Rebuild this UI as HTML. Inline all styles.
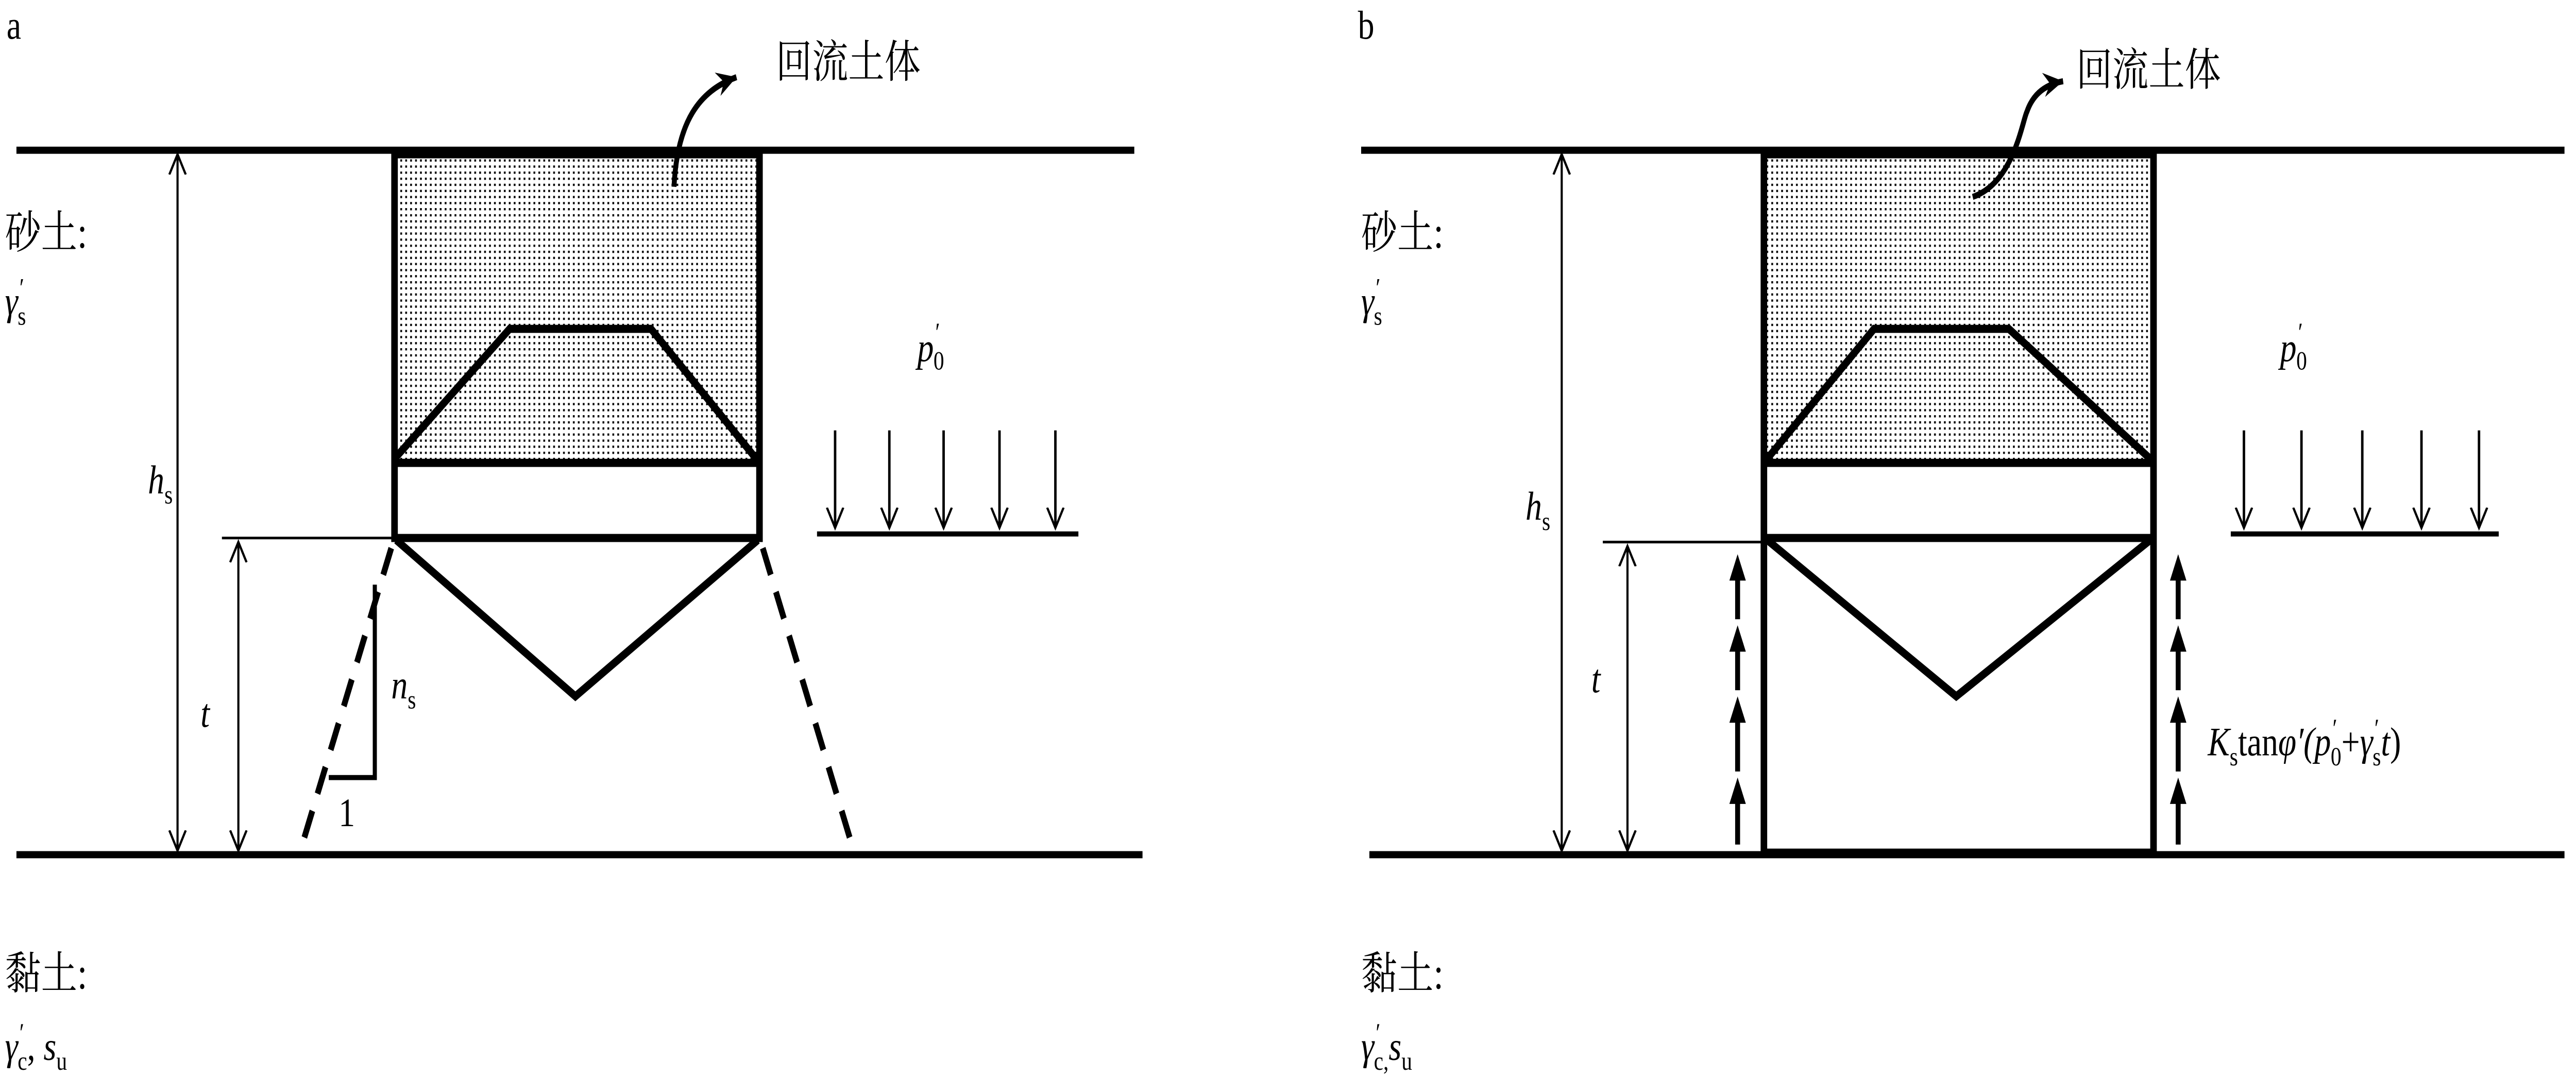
<!DOCTYPE html>
<html><head><meta charset="utf-8"><style>
html,body{margin:0;padding:0;background:#fff;width:100%;height:100%;overflow:hidden;}
svg{display:block;width:100vw;height:100vh;}
text{font-family:"Liberation Serif","Noto Serif CJK SC","Noto Sans CJK SC",serif;fill:#000;}
</style></head><body>
<svg viewBox="0 0 1567 531" preserveAspectRatio="none" xmlns="http://www.w3.org/2000/svg">
<defs>
<pattern id="dots" width="3" height="3" patternUnits="userSpaceOnUse">
<rect x="0.5" y="0.5" width="1.1" height="1.1" fill="#000"/>
</pattern>
<marker id="open" markerWidth="12" markerHeight="12" refX="10" refY="6" orient="auto-start-reverse" markerUnits="userSpaceOnUse">
<path d="M0,1 L10,6 L0,11" fill="none" stroke="#000" stroke-width="1.3"/>
</marker>
<marker id="solid" markerWidth="14" markerHeight="12" refX="12" refY="6" orient="auto" markerUnits="userSpaceOnUse">
<path d="M0,0 L12,6 L0,12 L4,6 Z" fill="#000"/>
</marker>
</defs>

<!-- ===== Panel a ===== -->
<text x="4" y="19" font-size="20">a</text>
<line x1="10" y1="74" x2="690" y2="74" stroke="#000" stroke-width="3.5"/>
<line x1="10" y1="421" x2="695" y2="421" stroke="#000" stroke-width="3.5"/>
<rect x="240" y="76" width="222" height="151" fill="url(#dots)"/>
<rect x="240" y="76" width="222" height="189" fill="none" stroke="#000" stroke-width="4"/>
<line x1="240" y1="228" x2="462" y2="228" stroke="#000" stroke-width="4"/>
<polyline points="240,226 310,162 396,162 460,226" fill="none" stroke="#000" stroke-width="4"/>
<polyline points="241,266 350,343 461,266" fill="none" stroke="#000" stroke-width="4"/>
<line x1="238" y1="270" x2="182" y2="421" stroke="#000" stroke-width="3.5" stroke-dasharray="14,9"/>
<line x1="464" y1="270" x2="520" y2="421" stroke="#000" stroke-width="3.5" stroke-dasharray="14,9"/>
<line x1="135" y1="265" x2="240" y2="265" stroke="#000" stroke-width="1.3"/>
<line x1="108" y1="76" x2="108" y2="419" stroke="#000" stroke-width="1.3" marker-start="url(#open)" marker-end="url(#open)"/>
<line x1="145" y1="267" x2="145" y2="419" stroke="#000" stroke-width="1.3" marker-start="url(#open)" marker-end="url(#open)"/>
<polyline points="228,288 228,383 200,383" fill="none" stroke="#000" stroke-width="2.5"/>
<text x="238" y="344" font-size="20" font-style="italic">n<tspan font-size="13" font-style="normal" dy="5">s</tspan></text>
<text x="206" y="407" font-size="20">1</text>
<text x="90" y="243" font-size="20" font-style="italic">h<tspan font-size="13" font-style="normal" dy="5">s</tspan></text>
<text x="122" y="358" font-size="20" font-style="italic">t</text>
<text x="558" y="178" font-size="20" font-style="italic">p<tspan font-size="13" font-style="normal" dx="1" dy="-10">′</tspan><tspan font-size="13" font-style="normal" dx="-4" dy="14">0</tspan></text>
<g stroke="#000" stroke-width="1.5">
<line x1="508" y1="212" x2="508" y2="260" marker-end="url(#open)"/>
<line x1="541" y1="212" x2="541" y2="260" marker-end="url(#open)"/>
<line x1="574" y1="212" x2="574" y2="260" marker-end="url(#open)"/>
<line x1="608" y1="212" x2="608" y2="260" marker-end="url(#open)"/>
<line x1="642" y1="212" x2="642" y2="260" marker-end="url(#open)"/>
</g>
<line x1="497" y1="263" x2="656" y2="263" stroke="#000" stroke-width="2.5"/>
<text x="3" y="122" font-size="22">砂土:</text>
<text x="3" y="155" font-size="20" font-style="italic">γ<tspan font-size="13" font-style="normal" dx="1" dy="-9">′</tspan><tspan font-size="13" font-style="normal" dx="-4" dy="14">s</tspan></text>
<text x="3" y="487" font-size="22">黏土:</text>
<text x="3" y="522" font-size="20" font-style="italic">γ<tspan font-size="13" font-style="normal" dx="1" dy="-9">′</tspan><tspan font-size="13" font-style="normal" dx="-4" dy="14">c</tspan><tspan font-style="normal" dy="-5">, </tspan>s<tspan font-size="13" font-style="normal" dy="5">u</tspan></text>
<text x="472" y="38" font-size="22">回流土体</text>
<path d="M410,92 C412,60 425,45 448,38" fill="none" stroke="#000" stroke-width="3" marker-end="url(#solid)"/>

<!-- ===== Panel b ===== -->
<text x="826" y="19" font-size="20">b</text>
<line x1="828" y1="74" x2="1560" y2="74" stroke="#000" stroke-width="3.5"/>
<line x1="833" y1="421" x2="1560" y2="421" stroke="#000" stroke-width="3.5"/>
<rect x="1073" y="76" width="237" height="151" fill="url(#dots)"/>
<rect x="1073" y="76" width="237" height="344" fill="none" stroke="#000" stroke-width="4"/>
<line x1="1073" y1="228" x2="1310" y2="228" stroke="#000" stroke-width="4"/>
<line x1="1073" y1="265" x2="1310" y2="265" stroke="#000" stroke-width="4"/>
<polyline points="1075,226 1140,162 1222,162 1308,226" fill="none" stroke="#000" stroke-width="4"/>
<polyline points="1075,266 1190,343 1308,266" fill="none" stroke="#000" stroke-width="4"/>
<line x1="975" y1="267" x2="1073" y2="267" stroke="#000" stroke-width="1.3"/>
<line x1="950" y1="76" x2="950" y2="419" stroke="#000" stroke-width="1.3" marker-start="url(#open)" marker-end="url(#open)"/>
<line x1="990" y1="269" x2="990" y2="419" stroke="#000" stroke-width="1.3" marker-start="url(#open)" marker-end="url(#open)"/>
<text x="928" y="256" font-size="20" font-style="italic">h<tspan font-size="13" font-style="normal" dy="5">s</tspan></text>
<text x="968" y="341" font-size="20" font-style="italic">t</text>
<g stroke="#000" stroke-width="3">
<line x1="1057" y1="416" x2="1057" y2="395"/><line x1="1057" y1="380" x2="1057" y2="355"/><line x1="1057" y1="340" x2="1057" y2="320"/><line x1="1057" y1="305" x2="1057" y2="285"/>
<line x1="1325" y1="416" x2="1325" y2="395"/><line x1="1325" y1="380" x2="1325" y2="355"/><line x1="1325" y1="340" x2="1325" y2="320"/><line x1="1325" y1="305" x2="1325" y2="285"/>
</g>
<g fill="#000">
<path d="M1052,396 L1057,383 L1062,396Z"/><path d="M1052,356 L1057,343 L1062,356Z"/><path d="M1052,321 L1057,308 L1062,321Z"/><path d="M1052,286 L1057,273 L1062,286Z"/>
<path d="M1320,396 L1325,383 L1330,396Z"/><path d="M1320,356 L1325,343 L1330,356Z"/><path d="M1320,321 L1325,308 L1330,321Z"/><path d="M1320,286 L1325,273 L1330,286Z"/>
</g>
<text x="1343" y="372" font-size="20" font-style="italic">K<tspan font-size="13" font-style="normal" dy="5">s</tspan><tspan font-style="normal" dy="-5">tan</tspan>φ′(p<tspan font-size="13" font-style="normal" dx="1" dy="-9">′</tspan><tspan font-size="13" font-style="normal" dx="-4" dy="14">0</tspan><tspan font-style="normal" dy="-5">+</tspan>γ<tspan font-size="13" font-style="normal" dx="1" dy="-9">′</tspan><tspan font-size="13" font-style="normal" dx="-4" dy="14">s</tspan><tspan dy="-5">t</tspan><tspan font-style="normal">)</tspan></text>
<text x="1387" y="178" font-size="20" font-style="italic">p<tspan font-size="13" font-style="normal" dx="1" dy="-10">′</tspan><tspan font-size="13" font-style="normal" dx="-4" dy="14">0</tspan></text>
<g stroke="#000" stroke-width="1.5">
<line x1="1365" y1="212" x2="1365" y2="260" marker-end="url(#open)"/>
<line x1="1400" y1="212" x2="1400" y2="260" marker-end="url(#open)"/>
<line x1="1437" y1="212" x2="1437" y2="260" marker-end="url(#open)"/>
<line x1="1473" y1="212" x2="1473" y2="260" marker-end="url(#open)"/>
<line x1="1508" y1="212" x2="1508" y2="260" marker-end="url(#open)"/>
</g>
<line x1="1357" y1="263" x2="1520" y2="263" stroke="#000" stroke-width="2.5"/>
<text x="828" y="122" font-size="22">砂土:</text>
<text x="828" y="155" font-size="20" font-style="italic">γ<tspan font-size="13" font-style="normal" dx="1" dy="-9">′</tspan><tspan font-size="13" font-style="normal" dx="-4" dy="14">s</tspan></text>
<text x="828" y="487" font-size="22">黏土:</text>
<text x="828" y="522" font-size="20" font-style="italic">γ<tspan font-size="13" font-style="normal" dx="1" dy="-9">′</tspan><tspan font-size="13" font-style="normal" dx="-4" dy="14">c,</tspan><tspan dy="-5">s</tspan><tspan font-size="13" font-style="normal" dy="5">u</tspan></text>
<text x="1263" y="42" font-size="22">回流土体</text>
<path d="M1200,97 C1225,90 1230,60 1233,55 C1236,48 1242,42 1255,40" fill="none" stroke="#000" stroke-width="3" marker-end="url(#solid)"/>
</svg>
</body></html>
